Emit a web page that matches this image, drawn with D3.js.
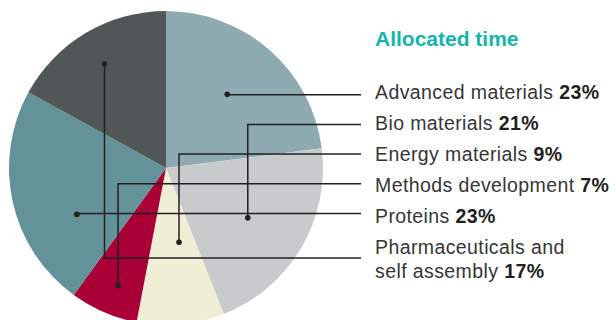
<!DOCTYPE html>
<html>
<head>
<meta charset="utf-8">
<script src="https://cdn.jsdelivr.net/npm/d3@7"></script>
<style>
  body { margin: 0; background: #fff; }
  svg { display: block; }
</style>
</head>
<body>
<svg width="616" height="320"></svg>
<script>
'use strict';

var title = 'Allocated time';
var categories = ['Advanced materials', 'Bio materials', 'Energy materials',
    'Methods development', 'Proteins', 'Pharmaceuticals and\nself assembly'];
var values = [23, 21, 9, 7, 23, 17];
var colors = ['#8eabb2', '#c9cacc', '#efefd5', '#a90036', '#639399', '#515757'];

// where the leader dot sits inside each slice (fraction of slice angle, fraction of radius)
var dotAngle = [0.48, 0.51, 0.36, 0.45, 0.32, 0.5];
var dotRadius = [0.61, 0.61, 0.48, 0.81, 0.64, 0.77];

var cx = 166, cy = 168, r = 157;
var lineEnd = 361, textX = 375;
var row0 = 94.7, rowStep = 29.7;
var text0 = 99, textStep = 31, lineHeight = 24;
var font = "'Liberation Sans', Arial, Helvetica, sans-serif";

var svg = d3.select('svg');

var pie = d3.pie().sort(null).value(function (d) { return d; });
var arcs = pie(values);
var arc = d3.arc().innerRadius(0).outerRadius(r);

var g = svg.append('g').attr('transform', 'translate(' + cx + ',' + cy + ')');

// slices
g.selectAll('path')
    .data(arcs)
    .enter()
    .append('path')
    .attr('d', arc)
    .attr('fill', function (d, i) { return colors[i]; });

// dot positions
function dotPos(d, i) {
    var a = d.startAngle + (d.endAngle - d.startAngle) * dotAngle[i];
    var rr = r * dotRadius[i];
    return [cx + rr * Math.sin(a), cy - rr * Math.cos(a)];
}

// label rows
var rows = categories.map(function (c, i) {
    var n = c.split('\n').length;
    return row0 + rowStep * (i + (n - 1) * 0.5);
});

// leader lines
svg.append('g')
    .selectAll('path')
    .data(arcs)
    .enter()
    .append('path')
    .attr('d', function (d, i) {
        var p = dotPos(d, i);
        return 'M' + p[0] + ',' + p[1] + ' V' + rows[i] + ' H' + lineEnd;
    })
    .attr('fill', 'none')
    .attr('stroke', '#231f20')
    .attr('stroke-width', 1.5);

svg.append('g')
    .selectAll('circle')
    .data(arcs)
    .enter()
    .append('circle')
    .attr('cx', function (d, i) { return dotPos(d, i)[0]; })
    .attr('cy', function (d, i) { return dotPos(d, i)[1]; })
    .attr('r', 2.8)
    .attr('fill', '#231f20');

// title
svg.append('text')
    .text(title)
    .attr('x', textX)
    .attr('y', 46)
    .attr('font-family', font)
    .attr('font-weight', 'bold')
    .attr('font-size', 21)
    .attr('fill', '#14b5ad');

// labels
var labels = svg.append('g')
    .attr('font-family', font)
    .attr('font-size', 19.5)
    .attr('letter-spacing', 0.4);

categories.forEach(function (c, i) {
    var lines = c.split('\n');
    var t = labels.append('text')
        .attr('x', textX)
        .attr('y', text0 + textStep * i)
        .attr('fill', '#363636');
    lines.forEach(function (ln, j) {
        t.append('tspan')
            .attr('x', textX)
            .attr('dy', j === 0 ? 0 : lineHeight)
            .text(ln + (j === lines.length - 1 ? ' ' : ''));
        if (j === lines.length - 1) {
            t.append('tspan')
                .attr('font-weight', 'bold')
                .attr('fill', '#231f20')
                .text(values[i] + '%');
        }
    });
});
</script>
</body>
</html>
